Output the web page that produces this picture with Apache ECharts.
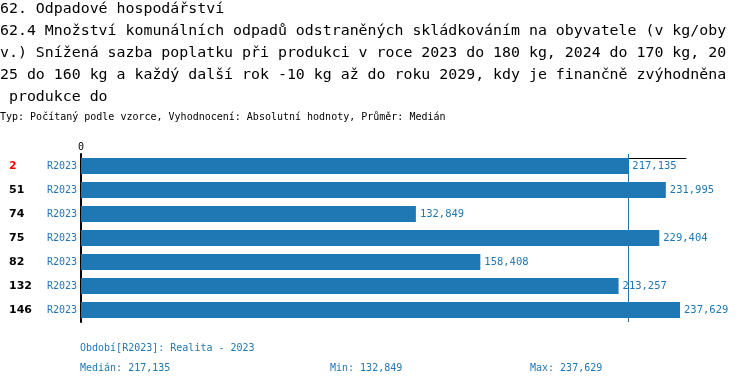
<!DOCTYPE html>
<html>
<head>
<meta charset="utf-8">
<script src="https://cdn.jsdelivr.net/npm/echarts@6/dist/echarts.min.js"></script>
<style>html,body{margin:0;padding:0;background:#fff}#c{width:750px;height:386px}</style>
</head>
<body>
<div id="c"></div>
<script>
const categories = ['2', '51', '74', '75', '82', '132', '146'];
const periods = ['R2023', 'R2023', 'R2023', 'R2023', 'R2023', 'R2023', 'R2023'];
const values = [217.135, 231.995, 132.849, 229.404, 158.408, 213.257, 237.629];
const highlighted = '2';
const axisMax = 240;
const titleLines = [
  '62. Odpadové hospodářství',
  '62.4 Množství komunálních odpadů odstraněných skládkováním na obyvatele (v kg/oby',
  'v.) Snížená sazba poplatku při produkci v roce 2023 do 180 kg, 2024 do 170 kg, 20',
  '25 do 160 kg a každý další rok -10 kg až do roku 2029, kdy je finančně zvýhodněna',
  ' produkce do'
];
const subtitle = 'Typ: Počítaný podle vzorce, Vyhodnocení: Absolutní hodnoty, Průměr: Medián';
const periodNote = 'Období[R2023]: Realita - 2023';

const fmt = v => v.toFixed(3).replace('.', ',');
const sorted = values.slice().sort((a, b) => a - b);
const median = sorted[Math.floor(sorted.length / 2)];
const vmin = sorted[0], vmax = sorted[sorted.length - 1];

const MONO = '"DejaVu Sans Mono", monospace';
const BLUE = '#1f77b4';

const chart = echarts.init(document.getElementById('c'), null, {renderer: 'canvas'});
chart.setOption({
  animation: false,
  title: [
    {text: titleLines.join('\n'), left: 0, top: -2, padding: 0,
     textStyle: {fontFamily: MONO, fontSize: 14.9, fontWeight: 'normal', color: '#000', lineHeight: 22}},
    {text: subtitle, left: 0, top: 111, padding: 0,
     textStyle: {fontFamily: MONO, fontSize: 10, fontWeight: 'normal', color: '#000', lineHeight: 12}},
    {text: periodNote, left: 80, top: 342, padding: 0,
     textStyle: {fontFamily: MONO, fontSize: 10, fontWeight: 'normal', color: BLUE, lineHeight: 12}},
    {text: 'Medián: ' + fmt(median), left: 80, top: 362, padding: 0,
     textStyle: {fontFamily: MONO, fontSize: 10, fontWeight: 'normal', color: BLUE, lineHeight: 12}},
    {text: 'Min: ' + fmt(vmin), left: 330, top: 362, padding: 0,
     textStyle: {fontFamily: MONO, fontSize: 10, fontWeight: 'normal', color: BLUE, lineHeight: 12}},
    {text: 'Max: ' + fmt(vmax), left: 530, top: 362, padding: 0,
     textStyle: {fontFamily: MONO, fontSize: 10, fontWeight: 'normal', color: BLUE, lineHeight: 12}}
  ],
  grid: {left: 81, right: 64, top: 154, bottom: 64, containLabel: false},
  xAxis: {
    type: 'value', position: 'top', min: 0, max: axisMax, interval: axisMax, offset: -4,
    axisLine: {show: true, onZero: false, lineStyle: {color: '#000', width: 1}},
    axisTick: {show: false},
    splitLine: {show: false},
    axisLabel: {show: true, margin: 6, fontFamily: MONO, fontSize: 10, color: '#000',
      formatter: v => (v === 0 ? '0' : '')}
  },
  yAxis: {
    type: 'category', inverse: true, data: categories,
    axisLine: {show: true, lineStyle: {color: '#000', width: 2}},
    axisTick: {show: false},
    splitLine: {show: false},
    axisLabel: {
      margin: 4,
      formatter: (v, i) => '{' + (v === highlighted ? 'h' : 'n') + '|' + v + '}{r|' + periods[i] + '}',
      rich: {
        n: {width: 38, align: 'left', fontFamily: '"DejaVu Sans", sans-serif', fontWeight: 'bold', fontSize: 11, color: '#000'},
        h: {width: 38, align: 'left', fontFamily: '"DejaVu Sans", sans-serif', fontWeight: 'bold', fontSize: 11, color: '#ff0000'},
        r: {width: 30, align: 'right', fontFamily: MONO, fontSize: 10, color: BLUE}
      }
    }
  },
  series: [{
    type: 'bar', data: values, barWidth: 16,
    itemStyle: {color: BLUE},
    label: {show: true, position: 'right', distance: 4, fontFamily: MONO, fontSize: 10.5, color: BLUE,
      formatter: p => fmt(p.value)},
    markLine: {
      silent: true, symbol: 'none', label: {show: false},
      lineStyle: {color: BLUE, width: 1, type: 'solid'},
      data: [{xAxis: median}]
    }
  }]
});
</script>
</body>
</html>
